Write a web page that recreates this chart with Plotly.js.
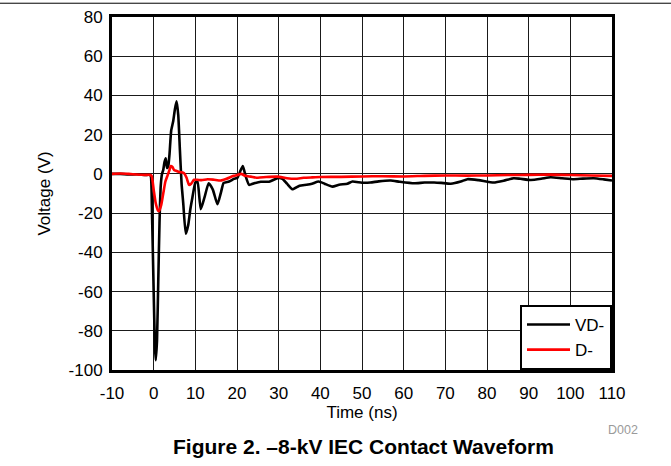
<!DOCTYPE html>
<html>
<head>
<meta charset="utf-8">
<script src="https://cdn.plot.ly/plotly-3.0.1.min.js"></script>
<style>
  html, body { margin: 0; padding: 0; background: #fff; }
  #chart { width: 671px; height: 466px; }
</style>
</head>
<body>
<div id="chart"></div>
<script>
// Tick values
const xTicks = [-10, 0, 10, 20, 30, 40, 50, 60, 70, 80, 90, 100, 110];
const yTicks = [80, 60, 40, 20, 0, -20, -40, -60, -80, -100];

// VD- (black) series
const tVD = [-10,-8,-6,-4,-2,-1,-0.7,-0.4,0,0.3,0.5,0.8,1.1,1.4,1.7,2.0,2.3,2.6,2.9,3.2,3.5,3.8,4.2,4.7,5.1,5.5,5.9,6.3,6.7,7.1,7.7,8.3,8.8,9.3,10.0,10.5,11.3,12.2,13.2,14.2,15.3,16.2,16.8,18.1,19.3,20.1,20.7,21.4,22.1,22.9,24.1,25.7,27.7,29.7,30.9,32,33.3,35,36.7,38,39.6,41,42.9,44.5,46.5,47.7,50,52,54,56.9,59,62.5,65,67.3,69,71.3,73.7,75.3,78,81.6,84,86.4,88,90.5,93,95.3,98,100.8,103,105.6,108,110];
const vVD = [0,0,-0.3,-0.2,-0.5,-0.5,-1,-20,-60,-88,-95,-85,-55,-25,-6,0,2,6,8,3,4,10,22,27,33,37,30,12,-5,-15,-30.5,-26,-18,-12,-4.5,-3.5,-18,-12,-4.8,-8,-15.5,-9,-4.6,-3.9,-2.5,-2,1,4,-1.4,-5.6,-4.8,-4,-4,-2.2,-2.5,-5,-7.8,-6,-5.5,-5,-3.9,-5,-6.5,-5.5,-5,-3.9,-4.5,-4.4,-3.8,-3.4,-4,-4.8,-4.4,-4.4,-4.6,-5,-3.9,-2.7,-3.2,-4.4,-3.5,-2.2,-2.5,-3.1,-2.5,-1.7,-2.2,-2.7,-2.4,-2.2,-2.8,-3.4];

// D- (red) series
const tD = [-10,-8,-6,-4,-2,-1,-0.5,0,0.5,1.0,1.3,1.8,2.3,2.8,3.3,3.8,4.1,4.5,4.9,5.5,6.1,6.7,7.3,7.9,8.5,9.0,9.7,10.5,11.5,12.9,14.5,16.1,17.5,19.2,20.2,21,22,23.3,25,27,29.7,32,34,36,38,40,45,50,55,60,65,70,75,80,85,90,95,100,105,110];
const vD = [0,0.2,0,-0.3,-0.5,-0.5,-1,-8,-15,-18.5,-19,-16,-10,-4,-1,2,4,3.5,2,1.5,1,0.8,0.3,-2,-5.6,-5,-3,-3,-3.2,-2.7,-3,-3.4,-2.5,-1,-0.5,0,-1,-1.4,-2,-1.6,-1.4,-2.2,-2.5,-2,-1.8,-1.6,-1.5,-1.3,-1.2,-1.3,-1,-0.8,-0.9,-0.8,-0.6,-0.5,-0.4,-0.6,-0.8,-1];

const FONT = "Liberation Sans, Arial, sans-serif";

const traces = [
  { x: tVD, y: vVD, mode: 'lines', name: 'VD-',
    line: { color: '#000000', width: 2.6, shape: 'spline', smoothing: 0.5 } },
  { x: tD,  y: vD,  mode: 'lines', name: 'D-',
    line: { color: '#ff0000', width: 2.6, shape: 'spline', smoothing: 0.5 } }
];

const layout = {
  width: 671, height: 466,
  margin: { l: 112, r: 59, t: 17, b: 96 },
  paper_bgcolor: '#ffffff', plot_bgcolor: '#ffffff',
  font: { family: FONT, size: 17, color: '#000' },
  showlegend: true,
  legend: {
    x: 1, y: 0, xanchor: 'right', yanchor: 'bottom',
    bgcolor: '#ffffff', bordercolor: '#000', borderwidth: 2,
    font: { family: FONT, size: 17, color: '#000' },
    tracegroupgap: 0, itemwidth: 43, entrywidth: 52
  },
  xaxis: {
    range: [-10, 110], tickvals: xTicks, ticktext: xTicks.map(String),
    showgrid: true, gridcolor: '#1a1a1a', gridwidth: 1,
    showline: true, linecolor: '#000', linewidth: 3, mirror: true,
    zeroline: false, ticks: '', fixedrange: true, ticklabelstandoff: 6,
    tickfont: { family: FONT, size: 17, color: '#000' },
    title: { text: 'Time (ns)', font: { family: FONT, size: 17, color: '#000' }, standoff: 2 }
  },
  yaxis: {
    range: [-100, 80], tickvals: yTicks, ticktext: yTicks.map(String),
    showgrid: true, gridcolor: '#1a1a1a', gridwidth: 1,
    showline: true, linecolor: '#000', linewidth: 3, mirror: true,
    zeroline: false, ticks: '', fixedrange: true, ticklabelstandoff: 3,
    tickfont: { family: FONT, size: 17, color: '#000' },
    title: { text: 'Voltage (V)', font: { family: FONT, size: 17, color: '#000' }, standoff: 14 }
  },
  shapes: [
    { type: 'line', xref: 'paper', yref: 'paper', x0: -0.3, x1: 1.2, y0: 1.039, y1: 1.039,
      line: { color: '#000', width: 1 } }
  ],
  annotations: [
    { xref: 'paper', yref: 'paper', x: 1.022, y: -0.170, xanchor: 'center', yanchor: 'middle',
      text: 'D002', showarrow: false, font: { family: FONT, size: 12.5, color: '#9a9a9a' } },
    { xref: 'paper', yref: 'paper', x: 0.503, y: -0.2153, xanchor: 'center', yanchor: 'middle',
      text: '<b>Figure 2. –8-kV IEC Contact Waveform</b>', showarrow: false,
      font: { family: FONT, size: 21, color: '#000' } }
  ]
};

Plotly.newPlot('chart', traces, layout, { displayModeBar: false, staticPlot: true });
</script>
</body>
</html>
